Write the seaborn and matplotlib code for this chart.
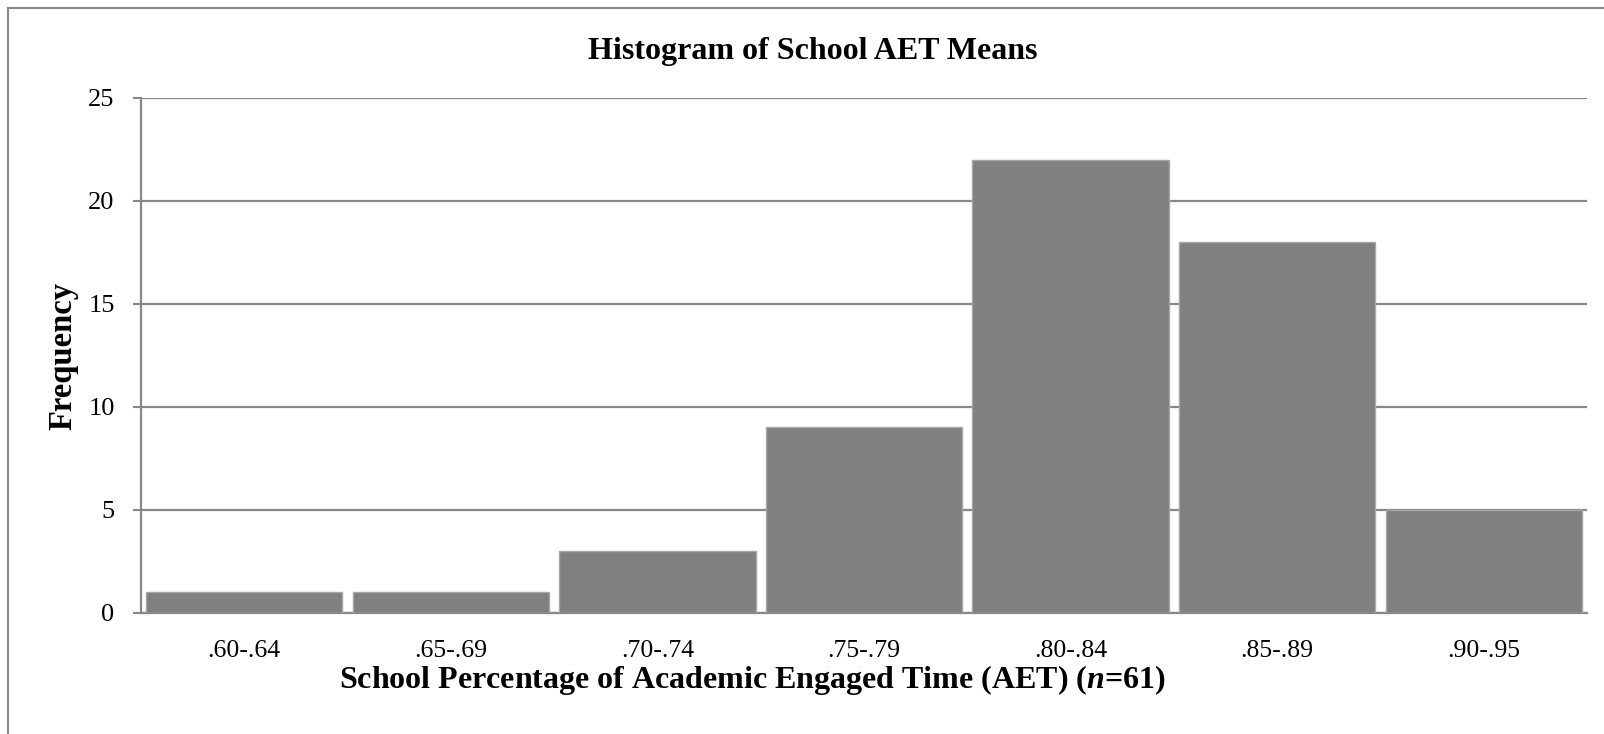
import matplotlib
matplotlib.use("Agg")
import matplotlib.pyplot as plt
import seaborn as sns
import pandas as pd
from matplotlib.patches import Rectangle

# Data
bins = [".60-.64", ".65-.69", ".70-.74", ".75-.79", ".80-.84", ".85-.89", ".90-.95"]
freq = [1, 1, 3, 9, 22, 18, 5]
yticks = [0, 5, 10, 15, 20, 25]

df = pd.DataFrame({"AET": bins, "Frequency": freq})

sns.set_style("white")
plt.rcParams["font.family"] = ["Liberation Serif", "DejaVu Serif"]
plt.rcParams["mathtext.fontset"] = "custom"
plt.rcParams["mathtext.it"] = "Liberation Serif:italic:bold"
plt.rcParams["mathtext.rm"] = "Liberation Serif:bold"
plt.rcParams["text.color"] = "black"
plt.rcParams["axes.labelcolor"] = "black"
plt.rcParams["xtick.labelcolor"] = "black"
plt.rcParams["ytick.labelcolor"] = "black"

fig = plt.figure(figsize=(16.04, 7.34), dpi=100)
ax = fig.add_axes([141 / 1604, 1 - 612.7 / 734, 1446 / 1604, 514.7 / 734])

gray = "#888888"
sns.barplot(data=df, x="AET", y="Frequency", color="#808080", saturation=1,
            width=0.95, edgecolor="#a6a6a6", linewidth=1, ax=ax, zorder=3)

ax.set_xlim(-0.5, len(bins) - 0.5)
ax.set_ylim(0, 25)
ax.set_yticks(yticks)
ax.yaxis.grid(True, color=gray, linewidth=1.6)
ax.set_axisbelow(True)

for side in ["top", "right"]:
    ax.spines[side].set_visible(False)
for side in ["left", "bottom"]:
    ax.spines[side].set_color(gray)
    ax.spines[side].set_linewidth(1.6)

# category boundary ticks on x
ax.set_xticks([i - 0.5 for i in range(len(bins) + 1)], minor=True)
ax.tick_params(axis="x", which="minor", length=6, width=1.5, color=gray, direction="out")
ax.tick_params(axis="x", which="major", length=0, pad=20, labelsize=18.5, labelcolor="black")
ax.tick_params(axis="y", length=6, width=1.5, color=gray, pad=13, labelsize=19, left=True,
               labelcolor="black")

ax.set_xlabel("School Percentage of Academic Engaged Time (AET) ($\\mathit{n}$=61)",
              fontsize=23, fontweight="bold", color="black")
ax.xaxis.set_label_coords(0.423, -0.097)
ax.set_ylabel("Frequency", fontsize=23.5, fontweight="bold", color="black")
ax.yaxis.set_label_coords(-0.054, 0.499)
ax.yaxis.label.set_va("center")

fig.suptitle("Histogram of School AET Means", x=813 / 1604, y=1 - 51 / 734,
             va="center", fontsize=23, fontweight="bold", color="black")

# chart frame
fig.patches.append(Rectangle((8 / 1604, -0.1), 1.2, 1.1 - 8 / 734, transform=fig.transFigure,
                             fill=False, edgecolor=gray, linewidth=1.5))

fig.savefig("out.png", dpi=100)
